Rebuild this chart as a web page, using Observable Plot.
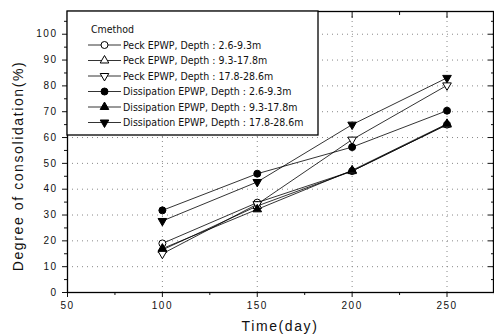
<!DOCTYPE html>
<html><head><meta charset="utf-8">
<script src="https://cdn.jsdelivr.net/npm/d3@7"></script>
<script src="https://cdn.jsdelivr.net/npm/@observablehq/plot@0.6"></script>
<style>
html,body{margin:0;padding:0;background:#fff;}
#chart{width:494px;height:336px;overflow:hidden;}
g[aria-label="y-axis tick label"] text, g[aria-label="x-axis tick label"] text{letter-spacing:1.5px;}
</style></head><body><div id="chart"></div>
<script>
// ---- data ----
const days = [100, 150, 200, 250];
const seriesNames = [
  "Peck EPWP, Depth : 2.6-9.3m",
  "Peck EPWP, Depth : 9.3-17.8m",
  "Peck EPWP, Depth : 17.8-28.6m",
  "Dissipation EPWP, Depth : 2.6-9.3m",
  "Dissipation EPWP, Depth : 9.3-17.8m",
  "Dissipation EPWP, Depth : 17.8-28.6m"
];
const peck1 = [19, 34.8, 47, 65];
const peck2 = [16.5, 33.5, 47, 65];
const peck3 = [15, 34.2, 59.2, 80.2];
const diss1 = [31.8, 46, 56.3, 70.4];
const diss2 = [17, 32.2, 47.3, 65.3];
const diss3 = [27.7, 42.8, 65, 83.1];
const legendTitle = "Cmethod";
const xTicks = [50, 100, 150, 200, 250];
const xMinor = [75, 125, 175, 225, 275];
const yTicks = [0, 10, 20, 30, 40, 50, 60, 70, 80, 90, 100];
const yMinor = [5, 15, 25, 35, 45, 55, 65, 75, 85, 95, 105];
const xTitle = "Time(day)";
const yTitle = "Degree of consolidation(%)";

// ---- styles per series ----
const styles = [
  {symbol: "circle", fill: "white", r: 3.5, rotate: 0},
  {symbol: "triangle", fill: "white", r: 3.2, rotate: 0},
  {symbol: "triangle", fill: "white", r: 3.2, rotate: 180},
  {symbol: "circle", fill: "black", r: 3.5, rotate: 0},
  {symbol: "triangle", fill: "black", r: 3.2, rotate: 0},
  {symbol: "triangle", fill: "black", r: 3.2, rotate: 180}
];
const allValues = [peck1, peck2, peck3, diss1, diss2, diss3];
const rows = [];
allValues.forEach((vals, i) => vals.forEach((v, j) => rows.push({day: days[j], value: v, series: seriesNames[i], idx: i})));

const noText = () => "";
const marks = [
  Plot.gridX(xTicks.slice(1), {stroke: "#888", strokeOpacity: 1, strokeDasharray: "1,4"}),
  Plot.gridY(yTicks.slice(1), {stroke: "#888", strokeOpacity: 1, strokeDasharray: "1,4"}),
  Plot.axisY(yTicks, {anchor: "left", tickSize: 5, tickPadding: 5, label: null, fontSize: 10}),
  Plot.axisY(yMinor, {anchor: "left", tickSize: 3, tickFormat: noText, label: null}),
  Plot.axisY(yTicks, {anchor: "right", tickSize: -6, tickFormat: noText, label: null}),
  Plot.axisY(yMinor, {anchor: "right", tickSize: -3, tickFormat: noText, label: null}),
  Plot.axisX(xTicks, {anchor: "bottom", tickSize: 5, tickPadding: 4, label: null, fontSize: 10}),
  Plot.axisX(xMinor, {anchor: "bottom", tickSize: 3, tickFormat: noText, label: null}),
  Plot.axisX(xTicks, {anchor: "top", tickSize: -6, tickFormat: noText, label: null}),
  Plot.axisX(xMinor, {anchor: "top", tickSize: -3, tickFormat: noText, label: null}),
  Plot.frame({stroke: "black", strokeWidth: 1.3}),
  Plot.line(rows, {x: "day", y: "value", z: "series", stroke: "black", strokeWidth: 0.8})
];
styles.forEach((s, i) => {
  marks.push(Plot.dot(rows.filter(d => d.idx === i), {x: "day", y: "value", symbol: s.symbol, r: s.r, rotate: s.rotate, fill: s.fill, stroke: "black", strokeWidth: 1}));
});

const chart = Plot.plot({
  width: 494, height: 336,
  marginLeft: 67, marginRight: 1, marginTop: 11, marginBottom: 44,
  x: {domain: [50, 274.5]},
  y: {domain: [0, 108.8]},
  style: {fontFamily: "'Liberation Sans', Arial, sans-serif", fontSize: "10px", color: "#111", background: "white"},
  marks
});
document.getElementById("chart").appendChild(chart);

// ---- titles and legend (layout) ----
const svg = d3.select(chart);
svg.append("text").attr("x", 280).attr("y", 331).attr("text-anchor", "middle")
  .attr("font-size", 14).attr("letter-spacing", "1.6px").attr("fill", "#111").text(xTitle);
svg.append("text").attr("transform", "translate(23,166) rotate(-90)").attr("text-anchor", "middle")
  .attr("font-size", 14).attr("letter-spacing", "1.6px").attr("fill", "#111").text(yTitle);

const lg = svg.append("g").attr("font-family", "'Liberation Sans Narrow', 'DejaVu Sans Condensed', sans-serif")
  .attr("font-size", 10.5).attr("text-anchor", "start").attr("fill", "#111");
lg.append("rect").attr("x", 67).attr("y", 11).attr("width", 251).attr("height", 124)
  .attr("fill", "white").attr("stroke", "black").attr("stroke-width", 1.3);
lg.append("text").attr("x", 91).attr("y", 29.5).attr("dy", "0.35em").attr("text-anchor", "start").text(legendTitle);
seriesNames.forEach((name, i) => {
  const y = 45 + i * 15.5;
  const s = styles[i];
  lg.append("line").attr("x1", 88).attr("x2", 121).attr("y1", y).attr("y2", y).attr("stroke", "black").attr("stroke-width", 0.8);
  const sym = s.symbol === "circle" ? d3.symbolCircle : d3.symbolTriangle;
  lg.append("path").attr("d", d3.symbol(sym, Math.PI * s.r * s.r)())
    .attr("transform", `translate(104.5,${y}) rotate(${s.rotate})`)
    .attr("fill", s.fill).attr("stroke", "black");
  lg.append("text").attr("x", 123).attr("y", y).attr("dy", "0.35em").attr("text-anchor", "start").text(name);
});
</script>
</body></html>
